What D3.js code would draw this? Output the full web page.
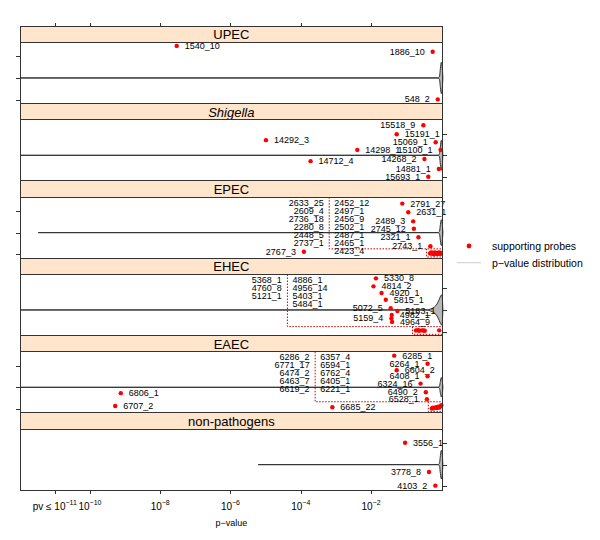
<!DOCTYPE html>
<meta charset="utf-8">
<style type="text/css">
	body {
		margin: 0;
		background: #fff;
	}
	svg text {
		font-family: "Liberation Sans", Arial, sans-serif;
		fill: #000;
	}
	.axis .domain {
		display: none;
	}
	.axis line {
		stroke: #333;
		shape-rendering: crispEdges;
	}
	.frame {
		fill: none;
		stroke: #333;
		stroke-width: 1px;
		shape-rendering: crispEdges;
	}
	.strip {
		fill: #ffe5cc;
		stroke: #333;
		stroke-width: 1px;
		shape-rendering: crispEdges;
	}
	.strip-text {
		font-size: 13px;
	}
	.violin {
		fill: #b8b8b8;
		stroke: #333;
		stroke-width: 1px;
	}
	.probe {
		fill: #ff0000;
	}
	.probe-label {
		font-size: 9px;
	}
	.callout {
		fill: none;
		stroke: #c00000;
		stroke-width: 1px;
		stroke-dasharray: 1.5, 1.5;
	}
	.tick-label {
		font-size: 10px;
	}
	.legend-text {
		font-size: 10.5px;
	}
</style>

<body>
<div class="g-chart"></div>
</body>

<script src="https://d3js.org/d3.v7.min.js"></script>

<script>
  //panels, top to bottom
  var panels = ["UPEC", "Shigella", "EPEC", "EHEC", "EAEC", "non-pathogens"];
  var tickExps = [-11, -10, -8, -6, -4, -2];
  var levels = [0, 1, 2];

  //smallest log10 p-value of each distribution
  var lowestLog = [-11.99, -11.99, -11.47, -11.99, -11.99, -5.21];

  //violin outlines: [log10 p, half width]
  var violinUPEC = [[-0.09, 0], [-0.05, 0.08], [-0.025, 0.45], [0, 0.72], [0.025, 0.55], [0.045, 0]];
  var violinShigella = [[-0.09, 0], [-0.05, 0.08], [-0.025, 0.43], [0, 0.69], [0.025, 0.52], [0.045, 0]];
  var violinEPEC = [[-0.09, 0], [-0.05, 0.07], [-0.025, 0.38], [0, 0.6], [0.025, 0.45], [0.045, 0]];
  var violinEHEC = [[-0.4, 0], [-0.3, 0.05], [-0.2, 0.13], [-0.12, 0.28], [-0.06, 0.48], [-0.02, 0.64], [0.02, 0.7], [0.045, 0]];
  var violinEAEC = [[-0.09, 0], [-0.05, 0.06], [-0.025, 0.28], [0, 0.45], [0.025, 0.35], [0.045, 0]];
  var violinNP = [[-0.09, 0], [-0.05, 0.08], [-0.025, 0.42], [0, 0.66], [0.025, 0.5], [0.045, 0]];

  //labelled probes: [id, log10 p, level]
  var probesUPEC = [["1540_10", -7.53, 2.48], ["1886_10", -0.245, 2.21], ["548_2", -0.10, 0.01]];
  var probesShigella = [
    ["15518_9", -0.51, 2.39], ["15191_1", -1.27, 1.97], ["15069_1", -0.16, 1.60],
    ["14292_3", -4.99, 1.70], ["14298_1", -2.39, 1.25], ["15100_1", -0.02, 1.25],
    ["14712_4", -3.72, 0.73], ["14268_2", -0.48, 0.83], ["14881_1", -0.07, 0.37],
    ["15693_1", -0.37, 0.01]
  ];
  var probesEPEC = [
    ["2791_27", -1.11, 2.34], ["2631_1", -0.94, 1.94], ["2489_3", -0.80, 1.52],
    ["2745_12", -0.78, 1.18], ["2321_1", -0.65, 0.79], ["2743_1", -0.31, 0.37],
    ["2767_3", -3.91, 0.12]
  ];
  var probesEHEC = [
    ["5330_8", -1.86, 2.46], ["4814_2", -1.93, 2.09], ["4920_1", -1.70, 1.78],
    ["5815_1", -1.58, 1.47], ["5072_5", -1.44, 1.08], ["5183_1", -1.25, 0.95],
    ["4982_1", -1.41, 0.77], ["5159_4", -1.42, 0.61], ["4964_9", -1.40, 0.45]
  ];
  var probesEAEC = [
    ["6285_1", -1.34, 2.46], ["6264_1", -0.39, 2.09], ["6604_2", -1.27, 1.79],
    ["6408_1", -0.39, 1.51], ["6324_16", -0.59, 1.17], ["6490_2", -0.44, 0.77],
    ["6528_1", -0.41, 0.45], ["6806_1", -9.12, 0.73], ["6707_2", -9.28, 0.14],
    ["6685_22", -3.10, 0.08]
  ];
  var probesNP = [["3556_1", -1.03, 2.01], ["3778_8", -0.35, 0.66], ["4103_2", -0.17, 0.03]];

  //probes whose label sits left of the dot
  var leftLabelled = ["1886_10", "548_2", "15518_9", "15069_1", "15100_1", "14268_2", "14881_1",
    "15693_1", "2489_3", "2745_12", "2321_1", "2743_1", "2767_3", "5072_5", "5159_4",
    "6264_1", "6408_1", "6324_16", "6490_2", "6528_1", "3778_8", "4103_2"];

  //crowded probes near p = 1, listed in two columns
  var epecListA = ["2633_25", "2609_4", "2736_18", "2280_8", "2448_5", "2737_1"];
  var epecListB = ["2452_12", "2497_1", "2456_9", "2502_1", "2487_1", "2465_1", "2423_4"];
  var epecCrowdLog = [-0.32, -0.29, -0.26, -0.24, -0.21, -0.18, -0.15, -0.12, -0.10, -0.07, -0.05, -0.03, -0.01];
  var epecCrowdLevel = [0.04, 0.09, 0.02, 0.07, 0.0, 0.08, 0.03, 0.06, 0.01, 0.09, 0.04, 0.07, 0.02];

  var ehecListA = ["5368_1", "4760_8", "5121_1"];
  var ehecListB = ["4886_1", "4956_14", "5403_1", "5484_1"];
  var ehecCrowdLog = [-0.72, -0.66, -0.63, -0.55, -0.51, -0.47, -0.06];
  var ehecCrowdLevel = [0.05, 0.07, 0.04, 0.06, 0.05, 0.04, 0.06];

  var eaecListA = ["6286_2", "6771_17", "6474_2", "6463_7", "6619_2"];
  var eaecListB = ["6357_4", "6594_1", "6762_4", "6405_1", "6221_1"];
  var eaecCrowdLog = [-0.27, -0.24, -0.21, -0.18, -0.15, -0.12, -0.09, -0.06, -0.03, 0.0];
  var eaecCrowdLevel = [0.02, 0.06, 0.03, 0.05, 0.08, 0.04, 0.1, 0.06, 0.12, 0.17];

  var violins = [violinUPEC, violinShigella, violinEPEC, violinEHEC, violinEAEC, violinNP];
  var probes = [probesUPEC, probesShigella, probesEPEC, probesEHEC, probesEAEC, probesNP];
  //panel index -> crowd (split = log10 p of the column divider)
  var crowds = {
    2: { a: epecListA, b: epecListB, lp: epecCrowdLog, lv: epecCrowdLevel, split: -3.19 },
    3: { a: ehecListA, b: ehecListB, lp: ehecCrowdLog, lv: ehecCrowdLevel, split: -4.38 },
    4: { a: eaecListA, b: eaecListB, lp: eaecCrowdLog, lv: eaecCrowdLevel, split: -3.59 }
  };

  //Margin conventions
  var margin = { top: 26, left: 20 };
  var width = 422.7,
    height = 464;
  var stripH = 16.5;
  var panelH = height / panels.length;

  var svg = d3.select(".g-chart").append("svg")
    .attr("width", 600)
    .attr("height", 540);

  var g = svg.append("g")
    .attr("transform", "translate(" + margin.left + "," + margin.top + ")");

  var xScale = d3.scaleLinear()
    .domain([-11.99, 0.04])
    .range([0, width]);

  panels.forEach(function(name, i) {
    var top = i * panelH,
      bodyTop = top + stripH,
      bodyBottom = top + panelH;

    var yScale = d3.scaleLinear()
      .domain([-0.171, 2.637])
      .range([bodyBottom, bodyTop]);

    var panel = g.append("g").attr("class", "panel");

    //strip
    panel.append("rect")
      .attr("class", "strip")
      .attr("x", 0)
      .attr("y", top)
      .attr("width", width)
      .attr("height", stripH);

    panel.append("text")
      .attr("class", "strip-text")
      .attr("x", width / 2)
      .attr("y", top + stripH / 2 + 0.5)
      .attr("text-anchor", "middle")
      .attr("dominant-baseline", "central")
      .style("font-style", name == "Shigella" ? "italic" : "normal")
      .text(name);

    //y ticks alternate sides
    var yAxis = (i % 2 == 0 ? d3.axisLeft(yScale) : d3.axisRight(yScale))
      .tickValues(levels)
      .tickSize(4)
      .tickFormat("");

    panel.append("g")
      .attr("class", "y axis")
      .attr("transform", "translate(" + (i % 2 == 0 ? 0 : width) + ",0)")
      .call(yAxis);

    //p-value distribution
    var shape = [[lowestLog[i], 0]].concat(violins[i]);
    var area = d3.area()
      .x(function(d) { return xScale(d[0]); })
      .y0(function(d) { return yScale(1 - d[1]); })
      .y1(function(d) { return yScale(1 + d[1]); })
      .curve(d3.curveMonotoneX);

    panel.append("path")
      .attr("class", "violin")
      .attr("d", area(shape));

    //crowded probes
    var crowd = crowds[i];
    if (crowd) {
      var pts = crowd.lp.map(function(d, k) { return [xScale(d), yScale(crowd.lv[k])]; });
      var boxL = d3.min(pts, function(d) { return d[0]; }) - 3.5,
        boxT = d3.min(pts, function(d) { return d[1]; }) - 3.5,
        boxB = bodyBottom - 1,
        boxR = width;
      var splitX = xScale(crowd.split);

      panel.append("path")
        .attr("class", "callout")
        .attr("d", "M" + splitX + "," + bodyTop + "V" + boxT + "H" + boxR +
          "M" + boxL + "," + boxT + "V" + boxB + "H" + boxR);

      panel.selectAll(".crowd-dot")
        .data(pts)
        .enter()
        .append("circle")
        .attr("class", "probe")
        .attr("cx", function(d) { return d[0]; })
        .attr("cy", function(d) { return d[1]; })
        .attr("r", 2.2);

      panel.selectAll(".list-a")
        .data(crowd.a)
        .enter()
        .append("text")
        .attr("class", "probe-label")
        .attr("x", splitX - 5.5)
        .attr("y", function(d, k) { return bodyTop + 5.5 + k * 8; })
        .attr("text-anchor", "end")
        .attr("dominant-baseline", "central")
        .text(function(d) { return d; });

      panel.selectAll(".list-b")
        .data(crowd.b)
        .enter()
        .append("text")
        .attr("class", "probe-label")
        .attr("x", splitX + 5)
        .attr("y", function(d, k) { return bodyTop + 5.5 + k * 8; })
        .attr("text-anchor", "start")
        .attr("dominant-baseline", "central")
        .text(function(d) { return d; });
    }

    //labelled probes
    var dots = panel.selectAll(".dot")
      .data(probes[i])
      .enter()
      .append("g");

    dots.append("circle")
      .attr("class", "probe")
      .attr("cx", function(d) { return xScale(d[1]); })
      .attr("cy", function(d) { return yScale(d[2]); })
      .attr("r", 2.2);

    dots.append("text")
      .attr("class", "probe-label")
      .attr("x", function(d) {
        return xScale(d[1]) + (leftLabelled.indexOf(d[0]) >= 0 ? -8 : 8);
      })
      .attr("y", function(d) { return yScale(d[2]); })
      .attr("text-anchor", function(d) {
        return leftLabelled.indexOf(d[0]) >= 0 ? "end" : "start";
      })
      .attr("dominant-baseline", "central")
      .text(function(d) { return d[0]; });

    //frame
    panel.append("rect")
      .attr("class", "frame")
      .attr("x", 0)
      .attr("y", bodyTop)
      .attr("width", width)
      .attr("height", panelH - stripH);
  });

  //x axes
  g.append("g")
    .attr("class", "x axis")
    .call(d3.axisTop(xScale).tickValues(tickExps).tickSize(3.5).tickFormat(""));

  g.append("g")
    .attr("class", "x axis")
    .attr("transform", "translate(0," + height + ")")
    .call(d3.axisBottom(xScale).tickValues(tickExps).tickSize(4).tickFormat(""));

  var tickText = g.selectAll(".tick-label")
    .data(tickExps)
    .enter()
    .append("text")
    .attr("class", "tick-label")
    .attr("x", function(d) { return xScale(d); })
    .attr("y", height + 20)
    .attr("text-anchor", "middle");

  tickText.append("tspan")
    .text(function(d, k) { return (k == 0 ? "pv \u2264 " : "") + "10"; });
  tickText.append("tspan")
    .attr("dy", -5)
    .style("font-size", "7px")
    .text(function(d) { return "\u2212" + Math.abs(d); });

  g.append("text")
    .attr("x", width / 2)
    .attr("y", height + 35.5)
    .attr("text-anchor", "middle")
    .style("font-size", "9px")
    .text("p\u2212value");

  //legend
  var legend = svg.append("g")
    .attr("transform", "translate(457,246)");

  legend.append("circle")
    .attr("class", "probe")
    .attr("cx", 12)
    .attr("cy", 0)
    .attr("r", 2.4);

  legend.append("text")
    .attr("class", "legend-text")
    .attr("x", 35)
    .attr("y", 0)
    .attr("dominant-baseline", "central")
    .text("supporting probes");

  legend.append("line")
    .attr("x1", 0)
    .attr("x2", 24)
    .attr("y1", 16.7)
    .attr("y2", 16.7)
    .style("stroke", "#cccccc")
    .style("stroke-width", 1);

  legend.append("text")
    .attr("class", "legend-text")
    .attr("x", 35)
    .attr("y", 16.7)
    .attr("dominant-baseline", "central")
    .text("p\u2212value distribution");
</script>
